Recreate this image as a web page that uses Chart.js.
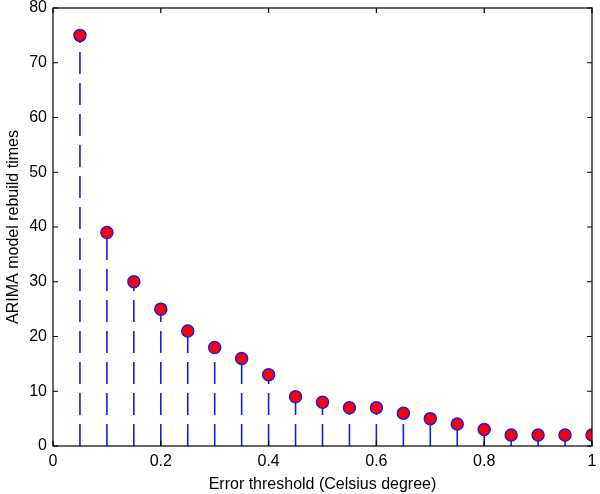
<!DOCTYPE html>
<html>
<head>
<meta charset="utf-8">
<script src="https://cdn.jsdelivr.net/npm/chart.js@4/dist/chart.umd.min.js"></script>
<style>
  html, body { margin: 0; padding: 0; background: #fff; }
  #wrap { width: 600px; height: 494px; }
</style>
</head>
<body>
<div id="wrap"><canvas id="chart" width="600" height="494"></canvas></div>
<script>
// error thresholds (Celsius degree)
const thresholds = [0.05, 0.1, 0.15, 0.2, 0.25, 0.3, 0.35, 0.4, 0.45, 0.5,
                    0.55, 0.6, 0.65, 0.7, 0.75, 0.8, 0.85, 0.9, 0.95, 1.0];
// ARIMA model rebuild times
const rebuildTimes = [75, 39, 30, 25, 21, 18, 16, 13, 9, 8,
                      7, 7, 6, 5, 4, 3, 2, 2, 2, 2];
const xTicks = [0, 0.2, 0.4, 0.6, 0.8, 1];
const yTicks = [0, 10, 20, 30, 40, 50, 60, 70, 80];

const stemColor = "#1a1ae6";
const fontFamily = "'Liberation Sans', Arial, sans-serif";

// one dashed line per stem, from the baseline up to the value
const stems = thresholds.map((x, i) => ({
  type: "line",
  data: [{ x: x, y: 0 }, { x: x, y: rebuildTimes[i] }],
  borderColor: stemColor,
  borderWidth: 1.6,
  borderDash: [22, 9],
  pointRadius: 0,
  fill: false,
  order: 1,
}));

const markers = {
  type: "scatter",
  data: thresholds.map((x, i) => ({ x: x, y: rebuildTimes[i] })),
  backgroundColor: "#ff0000",
  borderColor: stemColor,
  borderWidth: 1.5,
  pointRadius: 6,
  order: 0,
};

// box around the plot with inward tick marks on all four sides
const boxTicks = {
  id: "boxTicks",
  afterDraw(chart) {
    const { ctx, chartArea: a, scales } = chart;
    const len = 5;
    ctx.save();
    ctx.strokeStyle = "#000";
    ctx.lineWidth = 1.2;
    ctx.strokeRect(a.left, a.top, a.right - a.left, a.bottom - a.top);
    ctx.beginPath();
    xTicks.forEach((v) => {
      const px = scales.x.getPixelForValue(v);
      ctx.moveTo(px, a.bottom); ctx.lineTo(px, a.bottom - len);
      ctx.moveTo(px, a.top); ctx.lineTo(px, a.top + len);
    });
    yTicks.forEach((v) => {
      const py = scales.y.getPixelForValue(v);
      ctx.moveTo(a.left, py); ctx.lineTo(a.left + len, py);
      ctx.moveTo(a.right, py); ctx.lineTo(a.right - len, py);
    });
    ctx.stroke();
    ctx.restore();
  },
};

new Chart(document.getElementById("chart").getContext("2d"), {
  data: { datasets: [markers, ...stems] },
  options: {
    responsive: false,
    animation: false,
    layout: { padding: { top: 8, right: 8, left: 4, bottom: 0 } },
    plugins: { legend: { display: false }, tooltip: { enabled: false } },
    scales: {
      x: {
        type: "linear",
        min: 0,
        max: 1,
        afterBuildTicks: (s) => { s.ticks = xTicks.map((v) => ({ value: v })); },
        afterFit: (s) => { s.height = 48; s.paddingLeft = 0; s.paddingRight = 0; },
        grid: { display: false, drawTicks: false },
        border: { display: false },
        ticks: {
          color: "#000",
          padding: 6,
          maxRotation: 0,
          font: { family: fontFamily, size: 16 },
          callback: (v) => String(v),
        },
        title: {
          display: true,
          text: "Error threshold (Celsius degree)",
          color: "#000",
          padding: { top: 2, bottom: 0 },
          font: { family: fontFamily, size: 16 },
        },
      },
      y: {
        type: "linear",
        min: 0,
        max: 80,
        afterBuildTicks: (s) => { s.ticks = yTicks.map((v) => ({ value: v })); },
        afterFit: (s) => { s.width = 49; s.paddingTop = 0; s.paddingBottom = 0; },
        grid: { display: false, drawTicks: false },
        border: { display: false },
        ticks: {
          color: "#000",
          padding: 6,
          font: { family: fontFamily, size: 16 },
        },
        title: {
          display: true,
          text: "ARIMA model rebuild times",
          color: "#000",
          padding: { top: 0, bottom: 2 },
          font: { family: fontFamily, size: 16 },
        },
      },
    },
  },
  plugins: [boxTicks],
});
</script>
</body>
</html>
